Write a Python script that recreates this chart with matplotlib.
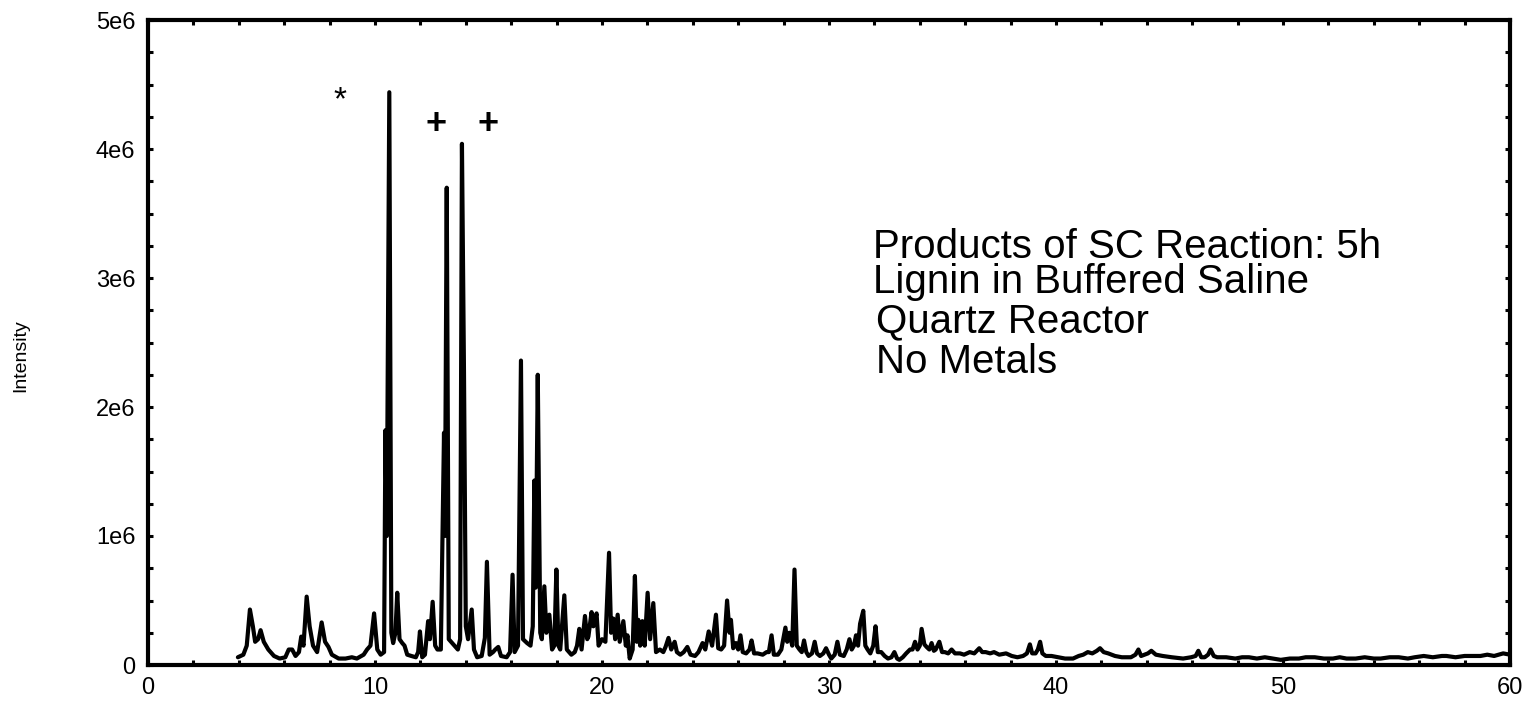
import matplotlib
matplotlib.use("Agg")
import matplotlib.pyplot as plt
import numpy as np

# retention time (min) and intensity (x 1e6)
rt = [3.96, 4.20, 4.35, 4.49, 4.62, 4.72, 4.85, 4.96, 5.10, 5.30, 5.55, 5.80, 6.05, 6.20, 6.35,
      6.50, 6.65, 6.75, 6.85, 6.99, 7.12, 7.27, 7.45, 7.65, 7.80, 7.95, 8.10, 8.40, 8.70, 8.98,
      9.20, 9.50, 9.65, 9.80, 9.96, 10.10, 10.25, 10.40, 10.46, 10.52, 10.63, 10.72, 10.80, 10.90,
      10.98, 11.08, 11.20, 11.30, 11.42, 11.60, 11.80, 11.90, 11.98, 12.08, 12.20, 12.34, 12.42,
      12.54, 12.65, 12.75, 12.90, 13.04, 13.08, 13.16, 13.25, 13.40, 13.55, 13.65, 13.75, 13.83,
      13.92, 14.00, 14.10, 14.26, 14.36, 14.50, 14.70, 14.84, 14.93, 15.05, 15.20, 15.30, 15.43,
      15.55, 15.80, 15.95, 16.06, 16.15, 16.30, 16.43, 16.52, 16.70, 16.85, 16.95, 17.02, 17.08,
      17.17, 17.28, 17.35, 17.46, 17.55, 17.68, 17.80, 17.90, 17.99, 18.08, 18.16, 18.34, 18.45,
      18.65, 18.80, 18.90, 19.00, 19.10, 19.25, 19.35, 19.40, 19.54, 19.62, 19.76, 19.85, 20.00,
      20.15, 20.31, 20.40, 20.50, 20.58, 20.69, 20.78, 20.94, 21.05, 21.12, 21.22, 21.35, 21.45,
      21.53, 21.60, 21.68, 21.78, 21.88, 22.01, 22.12, 22.26, 22.38, 22.55, 22.70, 22.80, 22.93,
      23.05, 23.20, 23.30, 23.45, 23.60, 23.76, 23.90, 24.10, 24.25, 24.43, 24.55, 24.70, 24.85,
      25.02, 25.12, 25.25, 25.38, 25.51, 25.62, 25.68, 25.78, 25.90, 26.00, 26.10, 26.20, 26.35,
      26.50, 26.59, 26.70, 26.85, 27.08, 27.25, 27.35, 27.47, 27.57, 27.75, 27.90, 28.08, 28.16,
      28.25, 28.38, 28.48, 28.58, 28.70, 28.80, 28.90, 29.00, 29.10, 29.25, 29.37, 29.47, 29.60,
      29.75, 29.87, 30.00, 30.10, 30.25, 30.37, 30.48, 30.65, 30.78, 30.90, 31.00, 31.10, 31.19,
      31.28, 31.37, 31.51, 31.60, 31.70, 31.82, 31.95, 32.05, 32.15, 32.30, 32.45, 32.60, 32.75,
      32.88, 33.00, 33.10, 33.25, 33.40, 33.57, 33.68, 33.79, 33.90, 34.00, 34.08, 34.20, 34.30,
      34.42, 34.52, 34.62, 34.70, 34.86, 34.98, 35.10, 35.25, 35.40, 35.55, 35.77, 35.95, 36.20,
      36.40, 36.62, 36.75, 36.90, 37.10, 37.27, 37.50, 37.80, 38.05, 38.30, 38.55, 38.72, 38.85,
      38.95, 39.10, 39.20, 39.30, 39.40, 39.55, 39.80, 40.10, 40.40, 40.75, 41.00, 41.20, 41.40,
      41.60, 41.80, 41.94, 42.10, 42.30, 42.60, 42.90, 43.30, 43.50, 43.63, 43.75, 43.90, 44.05,
      44.20, 44.40, 44.70, 45.10, 45.60, 45.95, 46.15, 46.27, 46.40, 46.55, 46.70, 46.81, 46.95,
      47.10, 47.50, 47.90, 48.20, 48.50, 48.85, 49.20, 49.55, 49.90, 50.30, 50.70, 51.00, 51.40,
      51.80, 52.20, 52.50, 52.80, 53.20, 53.60, 54.00, 54.30, 54.70, 55.10, 55.50, 55.80, 56.20,
      56.60, 57.00, 57.20, 57.60, 58.00, 58.40, 58.70, 59.00, 59.30, 59.70, 60.00]
intensity = [0.06, 0.08, 0.15, 0.43, 0.30, 0.18, 0.20, 0.27, 0.18, 0.12, 0.07, 0.05, 0.06, 0.12, 0.12,
             0.07, 0.10, 0.22, 0.15, 0.53, 0.30, 0.15, 0.10, 0.33, 0.18, 0.14, 0.08, 0.05, 0.05, 0.06,
             0.05, 0.08, 0.12, 0.15, 0.40, 0.12, 0.08, 0.10, 1.82, 1.00, 4.44, 0.25, 0.17, 0.25,
             0.56, 0.20, 0.17, 0.15, 0.08, 0.07, 0.06, 0.10, 0.26, 0.06, 0.08, 0.34, 0.20,
             0.49, 0.15, 0.12, 0.12, 1.80, 1.00, 3.70, 0.20, 0.17, 0.14, 0.12, 0.20, 4.04,
             2.27, 0.30, 0.20, 0.43, 0.12, 0.06, 0.07, 0.21, 0.80, 0.08, 0.10, 0.12, 0.14,
             0.07, 0.06, 0.10, 0.70, 0.10, 0.15, 2.36, 0.20, 0.17, 0.15, 0.30, 1.43, 0.60,
             2.25, 0.25, 0.20, 0.61, 0.25, 0.39, 0.12, 0.15, 0.74, 0.15, 0.12, 0.54, 0.12,
             0.08, 0.10, 0.15, 0.28, 0.12, 0.38, 0.20, 0.22, 0.41, 0.30, 0.40, 0.15, 0.20,
             0.18, 0.87, 0.25, 0.36, 0.20, 0.39, 0.18, 0.34, 0.15, 0.23, 0.05, 0.12, 0.69,
             0.18, 0.35, 0.15, 0.34, 0.15, 0.56, 0.20, 0.48, 0.10, 0.12, 0.10, 0.14, 0.21,
             0.12, 0.18, 0.10, 0.08, 0.10, 0.14, 0.08, 0.07, 0.10, 0.17, 0.12, 0.26, 0.15,
             0.39, 0.13, 0.12, 0.15, 0.50, 0.25, 0.35, 0.13, 0.17, 0.12, 0.23, 0.10, 0.09,
             0.12, 0.19, 0.09, 0.09, 0.08, 0.10, 0.10, 0.23, 0.08, 0.08, 0.12, 0.29, 0.18,
             0.25, 0.15, 0.74, 0.15, 0.12, 0.10, 0.19, 0.10, 0.07, 0.09, 0.18, 0.09, 0.07,
             0.09, 0.13, 0.08, 0.05, 0.08, 0.18, 0.08, 0.07, 0.12, 0.20, 0.12, 0.15, 0.23,
             0.15, 0.32, 0.42, 0.15, 0.12, 0.09, 0.15, 0.30, 0.10, 0.10, 0.07, 0.05, 0.06,
             0.10, 0.05, 0.04, 0.06, 0.09, 0.12, 0.12, 0.18, 0.12, 0.15, 0.28, 0.16, 0.14,
             0.12, 0.17, 0.11, 0.12, 0.18, 0.10, 0.10, 0.09, 0.12, 0.09, 0.09, 0.08, 0.10,
             0.09, 0.13, 0.10, 0.10, 0.09, 0.10, 0.08, 0.09, 0.07, 0.06, 0.07, 0.09, 0.16,
             0.09, 0.09, 0.12, 0.18, 0.09, 0.07, 0.07, 0.06, 0.05, 0.05, 0.07, 0.08, 0.10,
             0.09, 0.11, 0.13, 0.10, 0.09, 0.07, 0.06, 0.06, 0.08, 0.12, 0.07, 0.08, 0.09,
             0.11, 0.08, 0.07, 0.06, 0.05, 0.06, 0.07, 0.11, 0.06, 0.06, 0.08, 0.12, 0.07,
             0.06, 0.06, 0.05, 0.06, 0.06, 0.05, 0.06, 0.05, 0.04, 0.05, 0.05, 0.06, 0.06,
             0.05, 0.05, 0.06, 0.05, 0.05, 0.06, 0.05, 0.05, 0.06, 0.06, 0.05, 0.06, 0.07,
             0.06, 0.07, 0.07, 0.06, 0.07, 0.07, 0.07, 0.08, 0.07, 0.09, 0.08]

x_ticks = [0, 10, 20, 30, 40, 50, 60]
y_ticks = [0, 1e6, 2e6, 3e6, 4e6, 5e6]
y_ticklabels = ["0", "1e6", "2e6", "3e6", "4e6", "5e6"]

# peak markers: (symbol, time, intensity)
markers = [("*", 8.46, 4.31e6), ("+", 12.7, 4.12e6), ("+", 14.96, 4.12e6)]
notes = ["Products of SC Reaction: 5h", "Lignin in Buffered Saline", "Quartz Reactor", "No Metals"]

plt.rcParams["font.family"] = ["Liberation Sans", "DejaVu Sans"]

fig = plt.figure(figsize=(15.35, 7.02), dpi=100)
ax = fig.add_axes([148 / 1535, 1 - 665 / 702, (1510 - 148) / 1535, (665 - 20) / 702])

ax.plot(rt, np.array(intensity) * 1e6, color="black", lw=3.0,
        solid_joinstyle="round", solid_capstyle="round")

ax.set_xlim(0, 60)
ax.set_ylim(0, 5e6)
ax.set_xticks(x_ticks)
ax.set_xticks(np.arange(0, 61, 2), minor=True)
ax.set_yticks(y_ticks, y_ticklabels)
ax.set_yticks(np.arange(0, 5.01e6, 0.25e6), minor=True)
ax.tick_params(which="both", direction="in", top=True, right=True, length=3.5, width=2.2,
               labelsize=17)
ax.tick_params(axis="x", pad=9)
ax.tick_params(axis="y", pad=9)
for s in ax.spines.values():
    s.set_linewidth(3)

ax.set_ylabel("Intensity", fontsize=14)
ax.yaxis.set_label_coords(-0.0874, 0.48)

for sym, t, v in markers:
    ax.text(t, v, sym, fontsize=26 if sym == "+" else 24, ha="center", va="baseline",
            fontweight="bold" if sym == "+" else "normal")

note_x = [31.94, 31.94, 32.05, 32.05]
note_y = [3.155e6, 2.884e6, 2.581e6, 2.264e6]
for s, xx, yy in zip(notes, note_x, note_y):
    ax.text(xx, yy, s, fontsize=29, ha="left", va="baseline")

plt.savefig("out.png", dpi=100)
print("saved out.png")
